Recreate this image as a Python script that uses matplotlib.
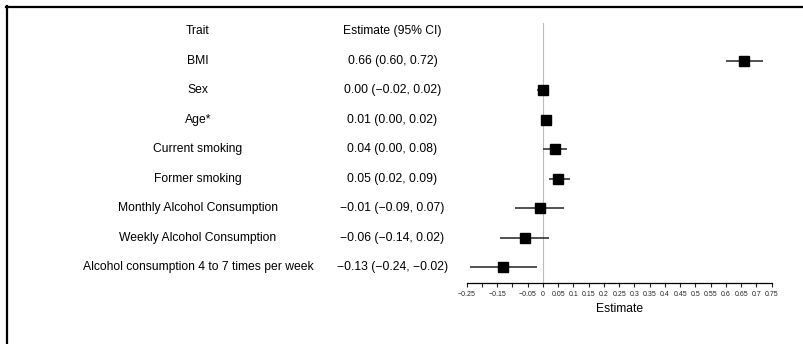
import matplotlib

matplotlib.use("Agg")
import matplotlib.pyplot as plt  # noqa: E402
from matplotlib.lines import Line2D  # noqa: E402
from matplotlib.transforms import blended_transform_factory  # noqa: E402

plt.rcParams["font.family"] = ["Liberation Sans", "DejaVu Sans"]

traits = [
    "BMI",
    "Sex",
    "Age*",
    "Current smoking",
    "Former smoking",
    "Monthly Alcohol Consumption",
    "Weekly Alcohol Consumption",
    "Alcohol consumption 4 to 7 times per week",
]
estimate = [0.66, 0.00, 0.01, 0.04, 0.05, -0.01, -0.06, -0.13]
ci_low = [0.60, -0.02, 0.00, 0.00, 0.02, -0.09, -0.14, -0.24]
ci_high = [0.72, 0.02, 0.02, 0.08, 0.09, 0.07, 0.02, -0.02]

ticks = [round(-0.25 + 0.05 * i, 2) for i in range(21)]
hidden_ticks = [-0.2, -0.1]

FS = 8.7


def fmt(v):
    return f"{v:.2f}".replace("-", "\u2212")


def tick_label(v):
    if v in hidden_ticks:
        return ""
    if v == 0:
        return "0"
    return f"{v:g}".replace("-", "\u2212")


W, H = 804, 344
fig = plt.figure(figsize=(W / 100, H / 100), dpi=100)

# forest panel: x from -0.25 to 0.75, rows spaced evenly
row0, row_step = 60.7, 29.5
ax_top, ax_bot = 23, 283
x0, x1 = 466.7, 771.7
ax = fig.add_axes([x0 / W, 1 - ax_bot / H, (x1 - x0) / W, (ax_bot - ax_top) / H])
ax.set_xlim(-0.25, 0.75)
ax.set_ylim((ax_bot - row0) / row_step, (ax_top - row0) / row_step)
ax.patch.set_visible(False)
for side in ("top", "right", "left"):
    ax.spines[side].set_visible(False)
ax.spines["bottom"].set_linewidth(0.9)
ax.set_yticks([])
ax.set_xticks(ticks)
ax.set_xticklabels([tick_label(t) for t in ticks], fontsize=5)
ax.tick_params(axis="x", length=3, width=0.8, pad=2.5, colors="#222222")
ax.set_xlabel("Estimate", fontsize=FS, labelpad=4)

ax.axvline(0, color="#bdbdbd", lw=0.8, zorder=1)

rows = list(range(len(traits)))
ax.hlines(rows, ci_low, ci_high, color="#222222", lw=1.1, zorder=2)
ax.plot(estimate, rows, "s", color="black", ms=6.8, zorder=3)

# text columns share the row positions of the panel
tr = blended_transform_factory(fig.transFigure, ax.transData)
ax.text(198 / W, -1, "Trait", transform=tr, ha="center", va="center", fontsize=FS)
ax.text(392.5 / W, -1, "Estimate (95% CI)", transform=tr, ha="center",
        va="center", fontsize=FS)
for i, name in enumerate(traits):
    ax.text(198 / W, i, name, transform=tr, ha="center", va="center",
            fontsize=FS, clip_on=False)
    label = f"{fmt(estimate[i])} ({fmt(ci_low[i])}, {fmt(ci_high[i])})"
    ax.text(392.5 / W, i, label, transform=tr, ha="center", va="center",
            fontsize=FS, clip_on=False)

# frame on the top and left edges
fig.add_artist(Line2D([6 / W, 1], [1 - 7 / H] * 2, color="black", lw=1.6,
                      transform=fig.transFigure))
fig.add_artist(Line2D([7 / W] * 2, [0, 1 - 6 / H], color="black", lw=1.6,
                      transform=fig.transFigure))

fig.savefig("out.png", dpi=100)
